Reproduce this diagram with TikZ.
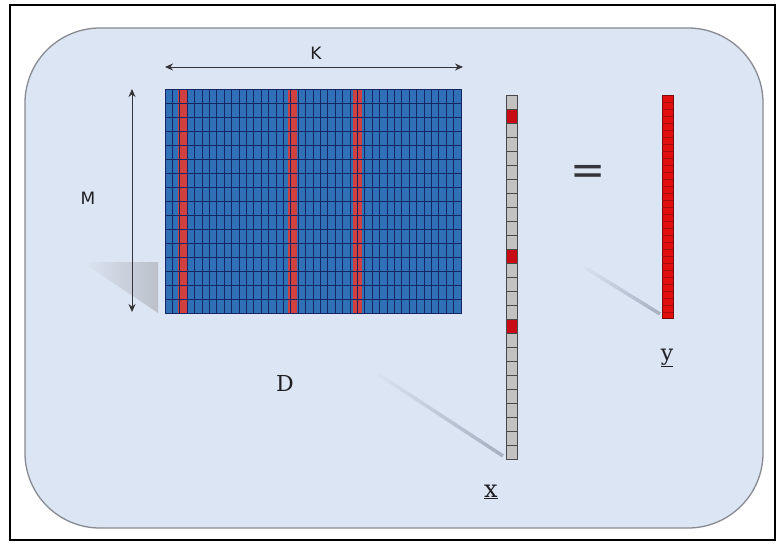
\documentclass[tikz,border=0pt]{standalone}
\usepackage{fontspec}
\setmainfont{DejaVu Serif}
\setsansfont{DejaVu Sans}
\usetikzlibrary{calc,arrows.meta}
\definecolor{bgblue}{RGB}{220,229,243}
\definecolor{framegray}{RGB}{135,138,145}
\definecolor{matblue}{RGB}{48,112,182}
\definecolor{gridnavy}{RGB}{22,38,100}
\definecolor{colred}{RGB}{208,64,62}
\definecolor{vecgray}{RGB}{196,194,192}
\definecolor{vecedge}{RGB}{70,72,74}
\definecolor{cellred}{RGB}{200,12,22}
\definecolor{yred}{RGB}{226,14,14}
\definecolor{yedge}{RGB}{120,10,10}
\definecolor{shadowgray}{RGB}{120,130,150}
\definecolor{textdark}{RGB}{30,30,35}
\tikzset{
  dimarrow/.style={{Stealth[length=8pt,width=7pt]}-{Stealth[length=8pt,width=7pt]}, line width=1pt, draw=textdark!90},
  gridline/.style={draw=gridnavy, line width=0.8pt},
  xcell/.style={draw=vecedge, line width=0.8pt},
  lbl/.style={text=textdark, inner sep=0pt}
}
\begin{document}
\begin{tikzpicture}[x=1pt,y=-1pt]
\useasboundingbox (0,0) rectangle (778,543);
\fill[white] (0,0) rectangle (778,543);
\draw[black, line width=1.5pt] (10,5) rectangle (775,540);
% panel
\draw[fill=bgblue, draw=framegray, line width=1.3pt, rounded corners=75pt] (25,28) rectangle (763,528);

% shadows
\shade[left color=bgblue, right color=shadowgray!50] (82,262) -- (158,262) -- (158,313) -- cycle;
\coordinate (sxa) at (378,374); \coordinate (sxb) at (503,456);
\coordinate (sya) at (584,267); \coordinate (syb) at (660,314);
\foreach \i in {0,...,19}{
  \draw[shadowgray, line width=3.5pt, opacity={0.04+\i*0.025}] ($(sxa)!{\i/20}!(sxb)$) -- ($(sxa)!{(\i+1)/20}!(sxb)$);
  \draw[shadowgray, line width=3.5pt, opacity={0.04+\i*0.025}] ($(sya)!{\i/20}!(syb)$) -- ($(sya)!{(\i+1)/20}!(syb)$);
}

% matrix D
\node[draw=gridnavy, fill=matblue, line width=0.8pt, minimum width=296pt, minimum height=224pt, inner sep=0pt, anchor=north west] (D) at (165,89) {};
\fill[colred] (177.5,89) rectangle (187,313);
\fill[colred] (288,89) rectangle (297,313);
\fill[colred] (352.5,89) rectangle (361.5,313);
\foreach \c in {1,...,39}{ \draw[gridline] ({165+\c*7.4},89) -- ({165+\c*7.4},313); }
\foreach \r in {1,...,15}{ \draw[gridline] (165,{89+\r*14}) -- (461,{89+\r*14}); }
\draw[draw=gridnavy, line width=0.8pt] (D.north west) rectangle (D.south east);

% dimension arrows
\coordinate (kl) at (165,67); \coordinate (kr) at (463,67);
\draw[dimarrow] (kl) -- (kr);
\coordinate (mt) at (132,89); \coordinate (mb) at (132,312);
\draw[dimarrow] (mt) -- (mb);
\node[lbl, font=\sffamily\fontsize{17pt}{17pt}\selectfont] (K) at (316,53) {K};
\node[lbl, font=\sffamily\fontsize{17pt}{17pt}\selectfont] (M) at (88,198) {M};
\node[lbl, font=\fontsize{22pt}{22pt}\selectfont] (Dl) at (285,383) {D};

% vector x
\foreach \i in {0,...,25}{
  \draw[xcell, fill=vecgray] (506,{95+\i*14}) rectangle (517,{95+(\i+1)*14});
}
\foreach \i in {1,11,16}{
  \draw[xcell, fill=cellred] (506,{95+\i*14}) rectangle (517,{95+(\i+1)*14});
}
\node[draw=vecedge, line width=0.9pt, minimum width=11pt, minimum height=364pt, inner sep=0pt, anchor=north west] (xv) at (506,95) {};
\node[lbl, font=\fontsize{24pt}{24pt}\selectfont] (xl) at (491,492) {\underline{x}};

% equals
\node[lbl, text=textdark!90, font=\sffamily\fontsize{42pt}{42pt}\selectfont] (eq) at (588,175) {=};

% vector y
\node[draw=yedge, fill=yred, line width=0.8pt, minimum width=11pt, minimum height=223pt, inner sep=0pt, anchor=north west] (yv) at (662,95) {};
\foreach \r in {1,...,31}{ \draw[yedge!60!yred, line width=0.3pt] (662,{95+\r*7}) -- (673,{95+\r*7}); }
\node[lbl, font=\fontsize{22pt}{22pt}\selectfont] (yl) at (667,358) {\underline{y}};
\end{tikzpicture}
\end{document}
